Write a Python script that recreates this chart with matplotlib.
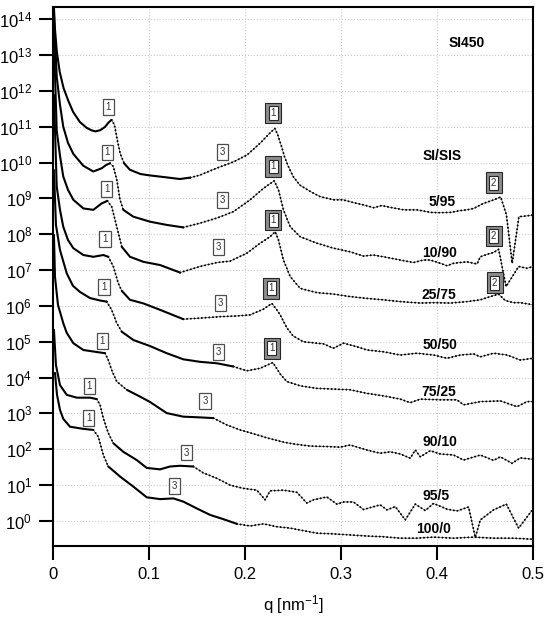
"""SAXS curves of SI450 / SIS blends, shifted vertically."""

import matplotlib
import matplotlib.pyplot as plt
import numpy as np

matplotlib.use("Agg")

plt.rcParams["font.family"] = ["Liberation Sans", "DejaVu Sans"]
plt.rcParams["mathtext.default"] = "regular"

# q [nm^-1] and log10(I), one pair per blend
q_5_95 = [0.001, 0.002, 0.004, 0.007, 0.011, 0.016, 0.021, 0.028, 0.035, 0.040,
          0.044, 0.049, 0.054, 0.058, 0.061, 0.064, 0.067, 0.070, 0.074, 0.080,
          0.091, 0.101, 0.117, 0.132, 0.143, 0.153, 0.171, 0.188, 0.202, 0.216,
          0.226, 0.231, 0.234, 0.238, 0.241, 0.245, 0.250, 0.257, 0.268, 0.278,
          0.292, 0.302, 0.313, 0.323, 0.334, 0.342, 0.351, 0.365, 0.379, 0.393,
          0.403, 0.414, 0.424, 0.431, 0.438, 0.448, 0.459, 0.466, 0.472, 0.478,
          0.485, 0.493, 0.500]
logi_5_95 = [14.34, 13.75, 13.10, 12.53, 12.08, 11.72, 11.41, 11.13, 10.97, 10.90,
             10.87, 10.90, 10.99, 11.12, 11.19, 11.05, 10.62, 10.25, 9.98, 9.80,
             9.68, 9.64, 9.59, 9.54, 9.58, 9.65, 9.85, 10.02, 10.21, 10.55,
             10.83, 10.95, 10.77, 10.44, 10.16, 9.89, 9.61, 9.37, 9.19, 9.05,
             8.96, 8.96, 8.88, 8.82, 8.74, 8.80, 8.75, 8.68, 8.68, 8.61,
             8.60, 8.61, 8.66, 8.68, 8.72, 8.86, 8.96, 9.04, 8.54, 7.19,
             8.49, 8.51, 8.54]

q_10_90 = [0.001, 0.0039, 0.0073, 0.0107, 0.0156, 0.0212, 0.0316, 0.042, 0.0507, 0.0552,
           0.0594, 0.0628, 0.0664, 0.0698, 0.0732, 0.0836, 0.101, 0.1184, 0.1357, 0.1531,
           0.1705, 0.1878, 0.2052, 0.2191, 0.2302, 0.2347, 0.2399, 0.2469, 0.2573, 0.2747,
           0.292, 0.3094, 0.3232, 0.3333, 0.3441, 0.3615, 0.3753, 0.3854, 0.3927, 0.4031,
           0.4101, 0.417, 0.4309, 0.4414, 0.4448, 0.4531, 0.4586, 0.4639, 0.4716, 0.4847,
           0.4934, 0.5]
logi_10_90 = [14.12, 12.40, 11.61, 11.00, 10.55, 10.24, 9.91, 9.75, 9.84, 9.93,
              9.98, 9.89, 9.52, 8.96, 8.68, 8.49, 8.35, 8.26, 8.19, 8.31,
              8.45, 8.63, 8.96, 9.28, 9.49, 9.24, 8.68, 8.21, 7.93, 7.75,
              7.61, 7.51, 7.39, 7.42, 7.37, 7.28, 7.21, 7.28, 7.28, 7.19,
              7.12, 7.19, 7.23, 7.17, 7.37, 7.45, 7.49, 7.58, 6.54, 7.10,
              7.05, 7.10]

q_25_75 = [0.001, 0.0039, 0.0073, 0.0107, 0.0156, 0.0212, 0.0316, 0.042, 0.0507, 0.0566,
           0.0611, 0.0664, 0.0716, 0.0802, 0.0941, 0.1115, 0.1323, 0.1531, 0.1705, 0.1844,
           0.2018, 0.2156, 0.226, 0.2313, 0.2347, 0.2399, 0.2469, 0.2573, 0.2747, 0.292,
           0.3094, 0.3268, 0.3438, 0.3615, 0.3823, 0.3961, 0.4135, 0.4309, 0.4448, 0.4552,
           0.4639, 0.4708, 0.4795, 0.4865, 0.5]
logi_25_75 = [13.42, 10.89, 10.19, 9.61, 9.24, 8.96, 8.72, 8.68, 8.86, 8.93,
              8.77, 8.21, 7.65, 7.37, 7.23, 7.14, 6.93, 7.10, 7.21, 7.25,
              7.47, 7.75, 7.93, 8.07, 7.84, 7.28, 6.82, 6.49, 6.37, 6.33,
              6.26, 6.21, 6.17, 6.12, 6.08, 6.09, 6.08, 6.12, 6.17, 6.26,
              6.33, 6.15, 6.09, 6.09, 6.03]

q_50_50 = [0.001, 0.0039, 0.0073, 0.0107, 0.0156, 0.0212, 0.0316, 0.042, 0.0524, 0.0576,
           0.0628, 0.068, 0.0716, 0.0802, 0.0941, 0.1115, 0.1357, 0.1531, 0.174, 0.1914,
           0.2052, 0.2191, 0.2278, 0.233, 0.2365, 0.2434, 0.25, 0.2607, 0.2816, 0.292,
           0.3024, 0.3164, 0.3268, 0.3441, 0.3615, 0.3789, 0.3961, 0.4101, 0.424, 0.4378,
           0.4448, 0.4586, 0.4726, 0.4865, 0.5]
logi_50_50 = [11.89, 9.33, 8.68, 8.21, 7.84, 7.61, 7.42, 7.37, 7.42, 7.37,
              7.10, 6.63, 6.42, 6.17, 6.07, 5.89, 5.63, 5.66, 5.70, 5.72,
              5.75, 5.91, 6.07, 5.89, 5.75, 5.39, 5.16, 5.00, 4.94, 4.82,
              4.96, 4.86, 4.77, 4.72, 4.63, 4.68, 4.63, 4.54, 4.63, 4.66,
              4.58, 4.68, 4.63, 4.49, 4.54]

q_75_25 = [0.001, 0.0031, 0.0073, 0.0143, 0.0208, 0.0281, 0.0385, 0.049, 0.0559, 0.0611,
           0.0664, 0.0716, 0.0836, 0.101, 0.1184, 0.1357, 0.1531, 0.1705, 0.1878, 0.2018,
           0.2156, 0.2289, 0.2365, 0.2434, 0.2573, 0.2747, 0.292, 0.3094, 0.3268, 0.3441,
           0.3615, 0.3719, 0.3823, 0.4031, 0.4205, 0.4274, 0.4448, 0.4656, 0.483, 0.4934,
           0.5]
logi_75_25 = [9.79, 8.26, 7.56, 6.91, 6.56, 6.39, 6.22, 6.15, 6.12, 5.89,
              5.52, 5.28, 5.05, 4.88, 4.68, 4.51, 4.44, 4.40, 4.31, 4.19,
              4.26, 4.42, 4.10, 3.89, 3.77, 3.70, 3.68, 3.66, 3.56, 3.49,
              3.40, 3.30, 3.40, 3.38, 3.38, 3.24, 3.33, 3.35, 3.19, 3.33,
              3.33]

q_90_10 = [0.001, 0.0021, 0.0052, 0.0107, 0.0143, 0.0212, 0.0316, 0.049, 0.0542, 0.0576,
           0.0611, 0.0664, 0.0768, 0.0906, 0.101, 0.1184, 0.1357, 0.1531, 0.167, 0.1809,
           0.1948, 0.2052, 0.2226, 0.2399, 0.2503, 0.2677, 0.2816, 0.299, 0.3094, 0.3268,
           0.3406, 0.351, 0.3615, 0.3719, 0.3771, 0.3823, 0.3927, 0.4031, 0.417, 0.4274,
           0.4448, 0.4586, 0.4656, 0.4778, 0.4865, 0.5]
logi_90_10 = [7.98, 6.81, 6.03, 5.52, 5.25, 4.96, 4.77, 4.70, 4.68, 4.49,
              4.21, 3.89, 3.66, 3.47, 3.32, 3.01, 2.91, 2.89, 2.87, 2.68,
              2.54, 2.46, 2.32, 2.20, 2.15, 2.09, 2.08, 2.06, 2.12, 1.98,
              1.89, 1.93, 1.87, 1.75, 1.98, 1.79, 1.96, 1.87, 1.84, 1.70,
              1.84, 1.69, 1.79, 1.61, 1.76, 1.72]

q_95_5 = [0.001, 0.0031, 0.0073, 0.0143, 0.0247, 0.0385, 0.0455, 0.049, 0.0524, 0.0576,
          0.0628, 0.0732, 0.0872, 0.0976, 0.1115, 0.1219, 0.1323, 0.1461, 0.1566, 0.1705,
          0.1844, 0.1982, 0.2122, 0.2208, 0.226, 0.2399, 0.2539, 0.2643, 0.2711, 0.2851,
          0.2955, 0.3024, 0.3128, 0.3232, 0.3406, 0.3476, 0.3563, 0.3667, 0.3771, 0.3875,
          0.3961, 0.4101, 0.4205, 0.4326, 0.4396, 0.4448, 0.4586, 0.4719, 0.4847, 0.499]
logi_95_5 = [5.33, 4.35, 3.79, 3.52, 3.44, 3.44, 3.40, 3.24, 2.87, 2.45,
             2.17, 1.93, 1.70, 1.48, 1.44, 1.52, 1.54, 1.52, 1.34, 1.19,
             1.00, 0.91, 0.86, 0.59, 0.84, 0.86, 0.80, 0.50, 0.59, 0.67,
             0.47, 0.53, 0.53, 0.32, 0.45, 0.31, 0.40, 0.03, 0.47, 0.29,
             0.49, 0.33, 0.28, 0.39, -0.46, 0.03, 0.31, 0.47, -0.20, 0.31]

q_100_0 = [0.0021, 0.0042, 0.0073, 0.0107, 0.0177, 0.0316, 0.042, 0.0472, 0.0524, 0.0576,
           0.0698, 0.0836, 0.0976, 0.1115, 0.1253, 0.1357, 0.1497, 0.1635, 0.1774, 0.1914,
           0.2052, 0.2191, 0.233, 0.2469, 0.2607, 0.2747, 0.292, 0.3094, 0.3268, 0.3441,
           0.3615, 0.3789, 0.3961, 0.417, 0.4378, 0.4586, 0.4795, 0.5]
logi_100_0 = [4.13, 3.52, 3.10, 2.85, 2.63, 2.57, 2.54, 2.35, 1.84, 1.52,
              1.24, 0.96, 0.66, 0.61, 0.63, 0.54, 0.35, 0.17, 0.05, -0.08,
              -0.14, -0.08, -0.16, -0.20, -0.27, -0.34, -0.36, -0.39, -0.42, -0.44,
              -0.48, -0.48, -0.45, -0.48, -0.45, -0.48, -0.48, -0.51]

curves = [
    (q_5_95, logi_5_95, (0.061, 0.074, 0.143)),
    (q_10_90, logi_10_90, (0.0594, 0.0732, 0.1357)),
    (q_25_75, logi_25_75, (0.0566, 0.0716, 0.1323)),
    (q_50_50, logi_50_50, (0.0576, 0.0716, 0.1357)),
    (q_75_25, logi_75_25, (0.0559, 0.0716, 0.1878)),
    (q_90_10, logi_90_10, (0.0542, 0.0768, 0.167)),
    (q_95_5, logi_95_5, (0.0455, 0.0628, 0.1461)),
    (q_100_0, logi_100_0, (0.042, 0.0576, 0.1914)),
]

blend_labels = ["SI/SIS", "5/95", "10/90", "25/75", "50/50", "75/25", "90/10", "95/5", "100/0"]
blend_label_pos = [(0.405, 10.18), (0.405, 8.89), (0.402, 7.49), (0.402, 6.31), (0.403, 4.91),
                   (0.402, 3.61), (0.403, 2.21), (0.399, 0.70), (0.396, -0.22)]

# peak markers: (q, log10 position, text)
marks_single = [(0.0576, 11.54, "1"), (0.0566, 10.28, "1"), (0.0559, 9.26, "1"), (0.0542, 7.86, "1"),
                (0.0531, 6.52, "1"), (0.0514, 5.02, "1"), (0.0378, 3.77, "1"), (0.0372, 2.88, "1"),
                (0.1768, 10.30, "3"), (0.1768, 8.96, "3"), (0.1726, 7.65, "3"), (0.174, 6.09, "3"),
                (0.1722, 4.72, "3"), (0.1583, 3.35, "3"), (0.1393, 1.91, "3"), (0.1264, 0.98, "3")]
marks_double = [(0.2295, 11.38, "1"), (0.2295, 9.89, "1"), (0.2295, 8.40, "1"), (0.2271, 6.49, "1"),
                (0.2278, 4.82, "1"), (0.4586, 9.44, "2"), (0.4586, 7.95, "2"), (0.4597, 6.65, "2")]


def draw_curve(ax, q, logi, breaks):
    """Solid where the points are dense, dotted where they spread out."""
    q = np.asarray(q)
    inten = 10.0 ** np.asarray(logi)
    idx = [0] + [int(np.argmin(np.abs(q - b))) for b in breaks] + [len(q) - 1]
    for k in range(len(idx) - 1):
        a, b = idx[k], idx[k + 1]
        if k % 2 == 0:
            ax.plot(q[a:b + 1], inten[a:b + 1], color="black", lw=1.5,
                    solid_joinstyle="round", solid_capstyle="round", zorder=3)
        else:
            ax.plot(q[a:b + 1], inten[a:b + 1], color="0.35", lw=0.5, zorder=3)
            ax.plot(q[a:b + 1], inten[a:b + 1], color="black", lw=1.4,
                    ls=(0, (0.1, 1.8)), dash_capstyle="round", zorder=3)


fig = plt.figure(figsize=(5.45, 6.17), dpi=100)
ax = fig.add_axes([0.0972, 0.1156, 0.8814, 0.8731])

for q, logi, breaks in curves:
    draw_curve(ax, q, logi, breaks)

for q, lg, s in marks_single:
    ax.text(q, 10 ** lg, s, fontsize=7, color="0.2", ha="center", va="center", zorder=5,
            bbox=dict(boxstyle="square,pad=0.3", fc="white", ec="0.3", lw=0.9))
for q, lg, s in marks_double:
    ax.text(q, 10 ** lg, s, fontsize=7, color="0.2", ha="center", va="center", zorder=5,
            bbox=dict(boxstyle="square,pad=0.55", fc="0.55", ec="0.15", lw=0.8))
    ax.text(q, 10 ** lg, s, fontsize=7, color="0.2", ha="center", va="center", zorder=6,
            bbox=dict(boxstyle="square,pad=0.2", fc="white", ec="0.15", lw=0.8))

for s, (q, lg) in zip(blend_labels, blend_label_pos):
    ax.text(q, 10 ** lg, s, fontsize=10, fontweight="bold", ha="center", va="center")
ax.text(0.4302, 10 ** 13.34, "SI450", fontsize=10, fontweight="bold", ha="center", va="center")

ax.set_yscale("log")
ax.set_xlim(0, 0.5)
ax.set_ylim(10 ** -0.689, 10 ** 14.34)
ax.set_xticks([0, 0.1, 0.2, 0.3, 0.4, 0.5])
ax.set_xticklabels(["0", "0.1", "0.2", "0.3", "0.4", "0.5"])
ax.set_yticks([10.0 ** k for k in range(15)])
ax.set_yticklabels([rf"$10^{{{k}}}$" for k in range(15)])
ax.yaxis.set_minor_locator(matplotlib.ticker.NullLocator())
ax.tick_params(which="major", direction="out", length=10, width=1.5, labelsize=12, pad=5,
               top=False, right=False)
ax.grid(True, which="major", color="0.8", ls=":", lw=0.8)
ax.set_axisbelow(True)
for sp in ax.spines.values():
    sp.set_linewidth(1.5)
ax.set_xlabel(r"q [nm$^{-1}$]", fontsize=12, labelpad=8)

fig.savefig("out.png", dpi=100)
